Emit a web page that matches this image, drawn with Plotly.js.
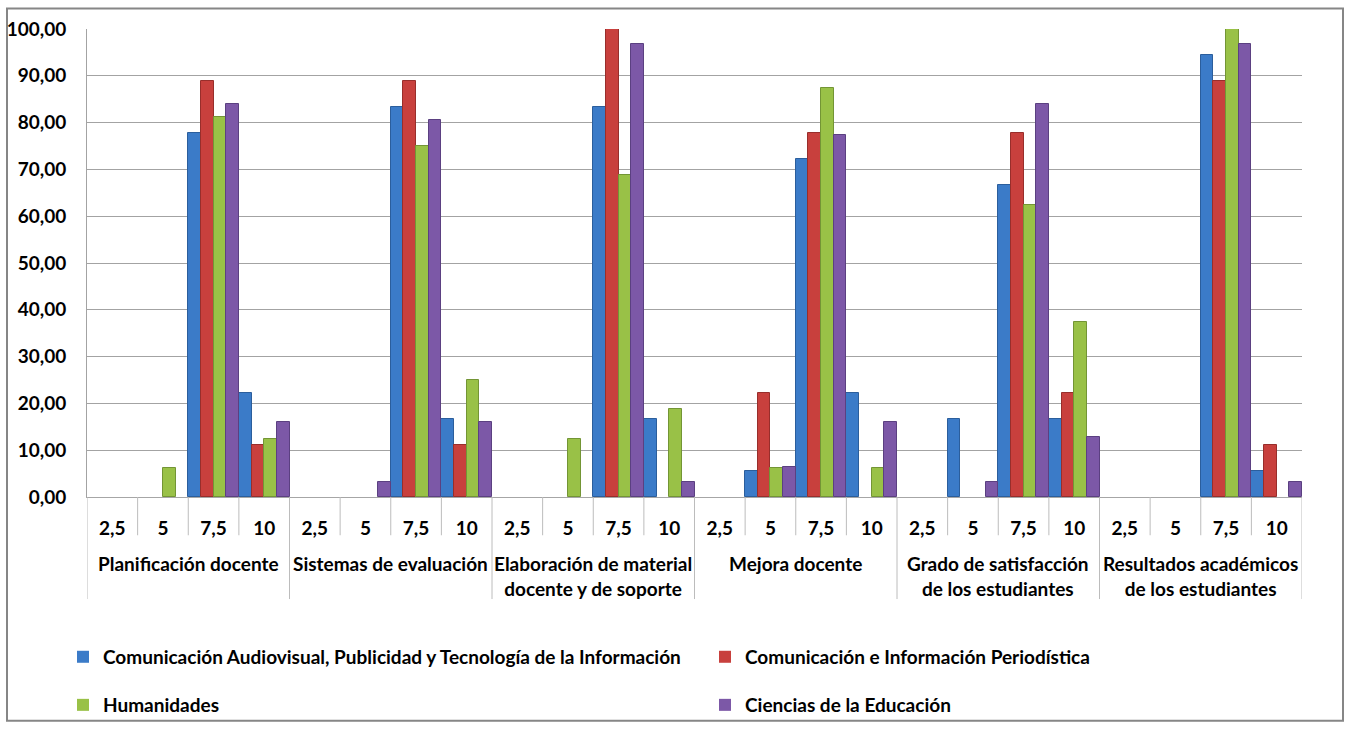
<!DOCTYPE html>
<html>
<head>
<meta charset="utf-8">
<script src="https://cdn.plot.ly/plotly-3.0.1.min.js"></script>
<style>
  html, body { margin: 0; padding: 0; background: #ffffff; }
  #chart { width: 1347px; height: 736px; }
</style>
</head>
<body>
<div id="chart"></div>
<script>
// ---- Data ----
const groups = [
  'Planificación docente',
  'Sistemas de evaluación',
  'Elaboración de material<br>docente y de soporte',
  'Mejora docente',
  'Grado de satisfacción<br>de los estudiantes',
  'Resultados académicos<br>de los estudiantes'
];
const scores = ['2,5', '5', '7,5', '10'];

const seriesNames = [
  'Comunicación Audiovisual, Publicidad y Tecnología de la Información',
  'Comunicación e Información Periodística',
  'Humanidades',
  'Ciencias de la Educación'
];

const comAudiovisual = [0, 0, 77.78, 22.22,  0, 0, 83.33, 16.67,  0, 0, 83.33, 16.67,  0, 5.56, 72.22, 22.22,  0, 16.67, 66.67, 16.67,  0, 0, 94.44, 5.56];
const comPeriodistica = [0, 0, 88.89, 11.11,  0, 0, 88.89, 11.11,  0, 0, 100, 0,  0, 22.22, 77.78, 0,  0, 0, 77.78, 22.22,  0, 0, 88.89, 11.11];
const humanidades = [0, 6.25, 81.25, 12.5,  0, 0, 75, 25,  0, 12.5, 68.75, 18.75,  0, 6.25, 87.5, 6.25,  0, 0, 62.5, 37.5,  0, 0, 100, 0];
const cienciasEducacion = [0, 0, 83.87, 16.13,  0, 3.23, 80.65, 16.13,  0, 0, 96.77, 3.23,  0, 6.45, 77.42, 16.13,  0, 3.23, 83.87, 12.9,  0, 0, 96.77, 3.23];

const yTickValues = [0, 10, 20, 30, 40, 50, 60, 70, 80, 90, 100];

// ---- Styling ----
const colors = ['#3b7bc8', '#c8403d', '#99c147', '#7c58a7'];
const edgeColors = ['#2b5e9c', '#982e2b', '#739535', '#5b4081'];
const FONT = 'Lato, "Open Sans", "Noto Sans", sans-serif';
const FS = 19;

const W = 1347, H = 736;
const M = { l: 87, r: 45, t: 29, b: 230 };
const PW = W - M.l - M.r, PH = H - M.t - M.b;
const px2py = py => (H - M.b - py) / PH;     // page y pixel -> paper y
const px2px = px => (px - M.l) / PW;         // page x pixel -> paper x

const nG = groups.length, nS = scores.length, N = nG * nS;
const xIdx = Array.from({ length: N }, (_, i) => i);
const hoverLabels = xIdx.map(i => groups[Math.floor(i / nS)].replace('<br>', ' ') + ' · ' + scores[i % nS]);
const tickText = xIdx.map(i => scores[i % nS]);

const allSeries = [comAudiovisual, comPeriodistica, humanidades, cienciasEducacion];
const legendOf = ['legend', 'legend', 'legend2', 'legend2'];
const traces = allSeries.map((vals, k) => ({
  type: 'bar',
  x: xIdx,
  y: vals,
  name: seriesNames[k],
  text: hoverLabels,
  hovertemplate: '%{text}<br>%{y:.2f}<extra>' + seriesNames[k] + '</extra>',
  textposition: 'none',
  legend: legendOf[k],
  marker: {
    color: colors[k],
    line: { color: edgeColors[k], width: vals.map(v => (v > 0 ? 1 : 0)) }
  }
}));

// ---- Dividers, border & group labels ----
const shapes = [];
for (let i = 0; i <= N; i++) {
  const isGroup = i % nS === 0;
  shapes.push({
    type: 'line', xref: 'x', yref: 'paper',
    x0: i - 0.5, x1: i - 0.5,
    y0: 0, y1: isGroup ? px2py(610) : px2py(545),
    line: { color: '#bcbcbc', width: 1 }
  });
}
shapes.push({
  type: 'rect', xref: 'paper', yref: 'paper',
  x0: px2px(7), x1: px2px(1343), y0: px2py(734), y1: px2py(8),
  line: { color: '#868686', width: 2 }, fillcolor: 'rgba(0,0,0,0)', layer: 'below'
});

const annotations = groups.map((g, gi) => ({
  xref: 'x', yref: 'paper',
  x: gi * nS + (nS - 1) / 2, y: px2py(560),
  xanchor: 'center', yanchor: 'top',
  text: g, showarrow: false, align: 'center',
  font: { family: FONT, size: FS, color: '#000', weight: 'bold' }
}));

const legendBase = {
  orientation: 'h', xanchor: 'left', yanchor: 'middle',
  x: px2px(84), entrywidth: 597, entrywidthmode: 'pixels',
  font: { family: FONT, size: FS, color: '#000', weight: 'bold' },
  bgcolor: 'rgba(0,0,0,0)', itemwidth: 30, traceorder: 'normal'
};

const layout = {
  width: W, height: H,
  margin: M,
  paper_bgcolor: '#ffffff', plot_bgcolor: '#ffffff',
  separators: ',.',
  barmode: 'group', bargap: 0, bargroupgap: 0,
  showlegend: true,
  legend: Object.assign({}, legendBase, { y: px2py(669) }),
  legend2: Object.assign({}, legendBase, { y: px2py(718) }),
  xaxis: {
    type: 'linear', range: [-0.5, N - 0.5],
    tickvals: xIdx, ticktext: tickText,
    showgrid: false, zeroline: false,
    showline: true, linecolor: '#a6a6a6', linewidth: 1,
    ticks: '', ticklabelstandoff: 14,
    tickfont: { family: FONT, size: FS, color: '#000', weight: 'bold' },
    fixedrange: true
  },
  yaxis: {
    range: [0, 100], tickvals: yTickValues, tickformat: '.2f',
    showgrid: true, gridcolor: '#a3a3a3', gridwidth: 1,
    zeroline: false, showline: true, linecolor: '#a3a3a3', linewidth: 1,
    ticks: '', ticklabelstandoff: 16,
    tickfont: { family: FONT, size: FS, color: '#000', weight: 'bold' },
    fixedrange: true
  },
  shapes: shapes,
  annotations: annotations,
  hovermode: 'closest'
};

Plotly.newPlot('chart', traces, layout, { displayModeBar: false, responsive: false });
</script>
</body>
</html>
